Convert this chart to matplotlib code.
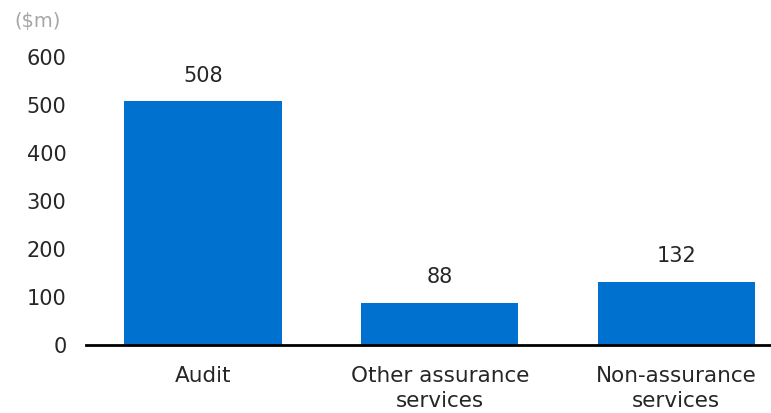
import matplotlib
matplotlib.use("Agg")
import matplotlib.pyplot as plt

categories = ["Audit", "Other assurance\nservices", "Non-assurance\nservices"]
values = [508, 88, 132]
yticks = [0, 100, 200, 300, 400, 500, 600]

plt.rcParams['font.family'] = ['DejaVu Sans']

fig = plt.figure(figsize=(7.71, 4.13), dpi=100)
ax = fig.add_axes([0.1115, 0.1646, 0.8885, 0.6974])

x = list(range(len(categories)))
bars = ax.bar(x, values, width=0.665, color='#0071CE', zorder=2)
for xi, v in zip(x, values):
    ax.annotate(str(v), (xi, v), xytext=(0, 11), textcoords='offset points',
                ha='center', va='bottom', fontsize=15, color='#262626')

ax.set_xlim(-0.495, 2.40)
ax.set_ylim(0, 600)
ax.set_yticks(yticks)
ax.set_yticklabels([str(t) for t in yticks], fontsize=15, color='#262626')
ax.set_xticks(x)
ax.set_xticklabels(categories, fontsize=15.5, color='#262626', linespacing=1.34)
ax.tick_params(axis='both', length=0)
ax.tick_params(axis='y', pad=14)
ax.tick_params(axis='x', pad=15)

for s in ['top', 'right', 'left']:
    ax.spines[s].set_visible(False)
ax.spines['bottom'].set_linewidth(2)
ax.spines['bottom'].set_color('#000000')

fig.text(0.018, 0.972, "($m)", fontsize=14, color='#a6a6a6', ha='left', va='top')

fig.savefig("out.png", dpi=100)
